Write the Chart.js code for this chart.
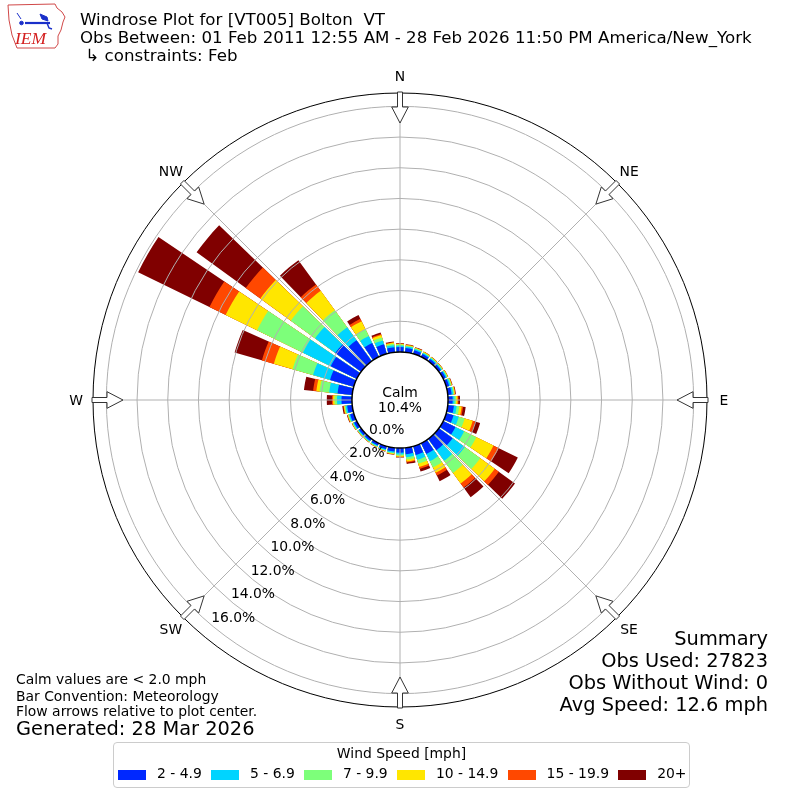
<!DOCTYPE html>
<html>
<head>
<meta charset="utf-8">
<title>Windrose Plot for [VT005] Bolton VT</title>
<script src="https://cdn.jsdelivr.net/npm/chart.js@4.4.1/dist/chart.umd.min.js"></script>
<style>
  body { margin: 0; background: #fff; }
  #page { position: relative; width: 800px; height: 800px; overflow: hidden; font-family: "DejaVu Sans", sans-serif; color: #000; }
  #rose { position: absolute; left: 0; top: 0; }
  .txt { position: absolute; white-space: pre; line-height: 1; }
  .head { left: 80px; font-size: 16.67px; }
  .note { left: 16px; font-size: 13.9px; }
  .big { font-size: 19.4px; }
  .summ { right: 32px; font-size: 19.4px; text-align: right; }
  #legend { position: absolute; left: 113px; top: 742px; width: 575px; height: 44px; border: 1px solid #cccccc; border-radius: 4px; background: rgba(255,255,255,0.8); }
  #legend .ttl { position: absolute; left: 0; right: 0; top: 3.6px; text-align: center; font-size: 13.9px; line-height: 1; }
  #legend .items { position: absolute; left: 4px; top: 24px; display: flex; gap: 9.2px; font-size: 13.9px; line-height: 1; white-space: pre; }
  #legend .item { display: flex; align-items: flex-start; }
  #legend .swatch { width: 28px; height: 10px; margin-top: 2.5px; margin-right: 11px; }
</style>
</head>
<body>
<div id="page">
  <canvas id="rose" width="800" height="800"></canvas>

  <svg style="position:absolute;left:0;top:0" width="70" height="54" viewBox="0 0 70 54">
    <path d="M8 5 L55 4 L57 8 L62 12 L65 17 L63 22 L61 30 L58 36 L58 44 L55 48 L17 48 L12 35 L9 20 Z" fill="none" stroke="#d04848" stroke-width="1"/>
    <text x="15" y="43.5" font-family="Liberation Serif, serif" font-style="italic" font-size="17.5" fill="#d42020">IEM</text>
    <g stroke="#1a2fc9" fill="#1a2fc9">
      <line x1="17" y1="13" x2="21" y2="19" stroke-width="1"/>
      <circle cx="21.5" cy="23" r="1.8"/>
      <line x1="25" y1="23" x2="50" y2="23" stroke-width="2.2"/>
      <path d="M40 14 L47 17 L48 21 L42 19 Z"/>
      <path d="M47 23 L49 28 L52 29" fill="none" stroke-width="1.5"/>
    </g>
  </svg>

  <div class="txt head" style="top:11.9px">Windrose Plot for [VT005] Bolton  VT</div>
  <div class="txt head" style="top:29.9px">Obs Between: 01 Feb 2011 12:55 AM - 28 Feb 2026 11:50 PM America/New_York</div>
  <div class="txt head" style="top:47.9px"> ↳ constraints: Feb</div>

  <div class="txt note" style="top:673.3px">Calm values are &lt; 2.0 mph</div>
  <div class="txt note" style="top:689.5px">Bar Convention: Meteorology</div>
  <div class="txt note" style="top:705px">Flow arrows relative to plot center.</div>
  <div class="txt note big" style="top:719.4px">Generated: 28 Mar 2026</div>

  <div class="txt summ" style="top:629.4px">Summary</div>
  <div class="txt summ" style="top:651.3px">Obs Used: 27823</div>
  <div class="txt summ" style="top:673.2px">Obs Without Wind: 0</div>
  <div class="txt summ" style="top:695.1px">Avg Speed: 12.6 mph</div>

  <div id="legend">
    <div class="ttl">Wind Speed [mph]</div>
    <div class="items" id="legendItems"></div>
  </div>
</div>

<script>
// direction bins (degrees, meteorological: where the wind blows from)
var directions = [0, 10, 20, 30, 40, 50, 60, 70, 80, 90, 100, 110, 120, 130, 140, 150, 160, 170,
                  180, 190, 200, 210, 220, 230, 240, 250, 260, 270, 280, 290, 300, 310, 320, 330, 340, 350];

// frequency [%] of each speed bin per direction
var freq2to5   = [0.32, 0.28, 0.24, 0.20, 0.18, 0.17, 0.18, 0.20, 0.25, 0.30, 0.40, 0.50, 0.89, 1.11, 0.91, 0.78, 0.59, 0.42,
                  0.30, 0.25, 0.20, 0.17, 0.16, 0.17, 0.20, 0.25, 0.33, 0.68, 0.96, 1.61, 1.89, 2.08, 1.69, 1.01, 0.65, 0.33];
var freq5to7   = [0.10, 0.09, 0.08, 0.07, 0.07, 0.07, 0.08, 0.09, 0.10, 0.12, 0.18, 0.35, 0.63, 0.98, 0.85, 0.52, 0.33, 0.20,
                  0.12, 0.08, 0.07, 0.06, 0.06, 0.06, 0.07, 0.08, 0.10, 0.29, 0.55, 1.15, 2.02, 1.63, 1.04, 0.50, 0.26, 0.13];
var freq7to10  = [0.06, 0.06, 0.05, 0.05, 0.05, 0.05, 0.05, 0.06, 0.07, 0.10, 0.17, 0.40, 0.88, 1.24, 0.98, 0.46, 0.26, 0.15,
                  0.08, 0.05, 0.04, 0.04, 0.04, 0.04, 0.04, 0.05, 0.07, 0.16, 0.63, 1.39, 3.32, 1.95, 1.37, 0.50, 0.20, 0.10];
var freq10to15 = [0.05, 0.05, 0.04, 0.04, 0.03, 0.03, 0.04, 0.04, 0.05, 0.10, 0.16, 0.55, 1.25, 1.17, 0.85, 0.39, 0.23, 0.13,
                  0.06, 0.04, 0.03, 0.03, 0.02, 0.02, 0.03, 0.04, 0.05, 0.10, 0.21, 1.27, 2.28, 2.46, 1.56, 0.57, 0.16, 0.07];
var freq15to20 = [0.02, 0.02, 0.02, 0.01, 0.01, 0.01, 0.01, 0.02, 0.03, 0.06, 0.09, 0.18, 0.38, 0.33, 0.33, 0.20, 0.13, 0.07,
                  0.03, 0.02, 0.01, 0.01, 0.01, 0.01, 0.01, 0.02, 0.03, 0.08, 0.21, 0.81, 1.17, 1.17, 0.52, 0.18, 0.07, 0.03];
var freq20up   = [0.03, 0.02, 0.02, 0.01, 0.01, 0.01, 0.01, 0.02, 0.03, 0.10, 0.17, 0.32, 1.38, 1.30, 0.78, 0.41, 0.18, 0.09,
                  0.03, 0.02, 0.02, 0.01, 0.01, 0.01, 0.02, 0.03, 0.07, 0.33, 0.60, 1.85, 5.17, 3.96, 1.95, 0.27, 0.11, 0.05];

var speedLabels = ['2 - 4.9', '5 - 6.9', '7 - 9.9', '10 - 14.9', '15 - 19.9', '20+'];
var speedColors = ['#0028ff', '#00d4ff', '#7dff7a', '#ffe600', '#ff4800', '#800000'];

var calmPct = 10.4;
var ringValues = [2, 4, 6, 8, 10, 12, 14, 16];
var tickLabelValues = [0, 2, 4, 6, 8, 10, 12, 14, 16];
var compassNames = ['N', 'NE', 'E', 'SE', 'S', 'SW', 'W', 'NW'];

// scale and look
var rMin = -3.13;      // leaves room for the calm circle at 0 %
var rMax = 16.87;
var barWidth = 8;      // degrees of each 10 degree sector that the bar fills
var gridColor = '#b0b0b0';
var fontFamily = '"DejaVu Sans", sans-serif';

// legend
var legendItems = document.getElementById('legendItems');
speedLabels.forEach(function (lab, k) {
    var item = document.createElement('div');
    item.className = 'item';
    var sw = document.createElement('span');
    sw.className = 'swatch';
    sw.style.background = speedColors[k];
    var tx = document.createElement('span');
    tx.textContent = lab;
    item.appendChild(sw);
    item.appendChild(tx);
    legendItems.appendChild(item);
});

// stacked bars: each dataset holds the running total, drawn from the top speed bin down
var speedSeries = [freq2to5, freq5to7, freq7to10, freq10to15, freq15to20, freq20up];
var running = directions.map(function () { return 0; });
var datasets = speedSeries.map(function (series, k) {
    running = running.map(function (v, i) { return v + series[i]; });
    var data = [];
    running.forEach(function (v) { data.push(v, 0); });   // bar, then a gap
    return {
        label: speedLabels[k],
        data: data,
        backgroundColor: function (ctx) { return ctx.dataIndex % 2 === 0 ? speedColors[k] : 'rgba(0,0,0,0)'; },
        borderWidth: 0,
        angle: function (ctx) { return ctx.dataIndex % 2 === 0 ? barWidth : 10 - barWidth; }
    };
});
var labels = [];
directions.forEach(function (d) { labels.push(d + '°', ''); });

function rad(deg) { return deg * Math.PI / 180; }

var roseDecor = {
    id: 'roseDecor',
    afterDatasetsDraw: function (chart) {
        var r = chart.scales.r, ctx = chart.ctx;
        var outer = r.getDistanceFromCenterForValue(rMax);
        ctx.save();
        ctx.strokeStyle = gridColor;
        ctx.lineWidth = 1;
        compassNames.forEach(function (name, i) {
            var a = rad(i * 45);
            ctx.beginPath();
            ctx.moveTo(r.xCenter, r.yCenter);
            ctx.lineTo(r.xCenter + outer * Math.sin(a), r.yCenter - outer * Math.cos(a));
            ctx.stroke();
        });
        ctx.restore();
    },
    afterDraw: function (chart) {
        var r = chart.scales.r, ctx = chart.ctx;
        var cx = r.xCenter, cy = r.yCenter;
        var outer = r.getDistanceFromCenterForValue(rMax);
        var calmR = r.getDistanceFromCenterForValue(0);
        ctx.save();

        // calm circle
        ctx.beginPath();
        ctx.arc(cx, cy, calmR, 0, Math.PI * 2);
        ctx.fillStyle = '#fff';
        ctx.fill();
        ctx.lineWidth = 1.5;
        ctx.strokeStyle = '#000';
        ctx.stroke();

        ctx.fillStyle = '#000';
        ctx.font = '13.9px ' + fontFamily;
        ctx.textAlign = 'center';
        ctx.textBaseline = 'alphabetic';
        ctx.fillText('Calm', cx, cy - 2.7);
        ctx.fillText(calmPct.toFixed(1) + '%', cx, cy + 12.4);

        // radial tick labels along 220 degrees
        ctx.textAlign = 'left';
        tickLabelValues.forEach(function (v) {
            var d = r.getDistanceFromCenterForValue(v);
            ctx.fillText(v.toFixed(1) + '%', cx - 0.643 * d, cy + 0.766 * d - 3.3);
        });

        // compass labels
        ctx.textAlign = 'center';
        compassNames.forEach(function (name, i) {
            var a = rad(i * 45), d = outer + 17;
            ctx.fillText(name, cx + d * Math.sin(a), cy - d * Math.cos(a) + 5);
        });

        // flow arrows pointing at the centre
        var shape = [[outer + 1, -2.5], [outer - 14, -2.5], [outer - 14, -8.3], [outer - 30, 0],
                     [outer - 14, 8.3], [outer - 14, 2.5], [outer + 1, 2.5]];
        ctx.lineWidth = 1;
        ctx.strokeStyle = '#333';
        ctx.fillStyle = '#fff';
        compassNames.forEach(function (name, i) {
            var a = rad(i * 45), s = Math.sin(a), c = Math.cos(a);
            ctx.beginPath();
            shape.forEach(function (p, j) {
                var x = cx + p[0] * s + p[1] * c;
                var y = cy - p[0] * c + p[1] * s;
                if (j === 0) ctx.moveTo(x, y); else ctx.lineTo(x, y);
            });
            ctx.closePath();
            ctx.fill();
            ctx.stroke();
        });
        ctx.restore();
    }
};

Chart.defaults.font.family = fontFamily;

new Chart(document.getElementById('rose'), {
    type: 'polarArea',
    data: { labels: labels, datasets: datasets },
    options: {
        responsive: false,
        animation: false,
        events: [],
        layout: { padding: 93 },
        plugins: { legend: { display: false }, tooltip: { enabled: false } },
        scales: {
            r: {
                min: rMin,
                max: rMax,
                startAngle: -barWidth / 2,
                ticks: { display: false },
                angleLines: { display: false },
                pointLabels: { display: false },
                grid: {
                    circular: true,
                    z: 1,
                    lineWidth: 1,
                    color: function (ctx) { return ctx.tick && ctx.tick.value === rMax ? '#000' : gridColor; }
                },
                afterBuildTicks: function (scale) {
                    scale.ticks = ringValues.concat([rMax]).map(function (v) { return { value: v }; });
                }
            }
        }
    },
    plugins: [roseDecor]
});
</script>
</body>
</html>
